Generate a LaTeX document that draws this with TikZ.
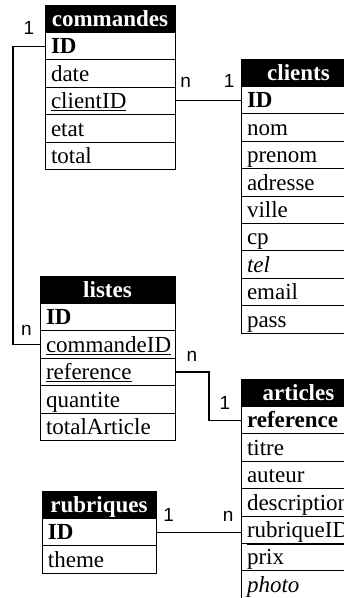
\documentclass[tikz,border=0pt]{standalone}
\usepackage{fontspec}
\setmainfont{Liberation Serif}
\newfontfamily\lblfont{Liberation Sans}
\usepackage{tikz}
\usetikzlibrary{positioning}

\begin{document}
\begin{tikzpicture}[
            x=1pt, y=-1pt,
            row node/.style={draw, line width=.8pt, outer sep=0pt, inner xsep=6pt, inner ysep=0pt,
                minimum height=27.4pt, text height=21pt, text depth=5.5pt, text width=#1, align=left,
                font=\fontsize{23}{26}\selectfont},
            head node/.style={row node=#1, fill=black, text=white, align=center,
                font=\fontsize{23}{26}\selectfont\bfseries},
            label node/.style={inner sep=0pt, font=\lblfont\fontsize{19}{19}\selectfont},
            link/.style={line width=1.2pt},
            ]
            \useasboundingbox (0,0) rectangle (344,598);
            \clip (0,0) rectangle (344,598);

            % commandes
            \node[head node=118, anchor=north west] (cmd) at (45,5) {commandes};
            \node[row node=118, below=0pt of cmd] (cmdID) {\textbf{ID}};
            \node[row node=118, below=0pt of cmdID] (cmdDate) {date};
            \node[row node=118, below=0pt of cmdDate] (cmdClient) {\underline{clientID}};
            \node[row node=118, below=0pt of cmdClient] (cmdEtat) {etat};
            \node[row node=118, below=0pt of cmdEtat] (cmdTotal) {total};

            % clients
            \node[head node=103, anchor=north west] (cli) at (241,59) {clients};
            \node[row node=103, below=0pt of cli] (cliID) {\textbf{ID}};
            \node[row node=103, below=0pt of cliID] (cliNom) {nom};
            \node[row node=103, below=0pt of cliNom] (cliPrenom) {prenom};
            \node[row node=103, below=0pt of cliPrenom] (cliAdresse) {adresse};
            \node[row node=103, below=0pt of cliAdresse] (cliVille) {ville};
            \node[row node=103, below=0pt of cliVille] (cliCp) {cp};
            \node[row node=103, below=0pt of cliCp] (cliTel) {\textit{tel}};
            \node[row node=103, below=0pt of cliTel] (cliEmail) {email};
            \node[row node=103, below=0pt of cliEmail] (cliPass) {pass};

            % listes
            \node[head node=123, anchor=north west] (lst) at (40,276) {listes};
            \node[row node=123, below=0pt of lst] (lstID) {\textbf{ID}};
            \node[row node=123, below=0pt of lstID] (lstCmd) {\underline{commandeID}};
            \node[row node=123, below=0pt of lstCmd] (lstRef) {\underline{reference}};
            \node[row node=123, below=0pt of lstRef] (lstQte) {quantite};
            \node[row node=123, below=0pt of lstQte] (lstTotal) {totalArticle};

            % articles
            \node[head node=103, anchor=north west] (art) at (241,379) {articles};
            \node[row node=103, below=0pt of art] (artRef) {\textbf{reference}};
            \node[row node=103, below=0pt of artRef] (artTitre) {titre};
            \node[row node=103, below=0pt of artTitre] (artAuteur) {auteur};
            \node[row node=103, below=0pt of artAuteur] (artDesc) {description};
            \node[row node=103, below=0pt of artDesc] (artRub) {\underline{rubriqueID}};
            \node[row node=103, below=0pt of artRub] (artPrix) {prix};
            \node[row node=103, below=0pt of artPrix] (artPhoto) {\textit{photo}};

            % rubriques
            \node[head node=102, anchor=north west] (rub) at (42,491) {rubriques};
            \node[row node=102, below=0pt of rub] (rubID) {\textbf{ID}};
            \node[row node=102, below=0pt of rubID] (rubTheme) {theme};

            % liens
            \draw[link] (cliID.west) -- node[label node, pos=.18, above=12pt] {1}
                node[label node, pos=.84, above=12pt] {n} (cliID.west -| cmdClient.east);
            \draw[link] (cmdID.west) -- node[label node, above=11pt] {1} ++(-32,0)
                |- node[label node, pos=.75, above=8pt] {n} (lstCmd.west);
            \draw[link] (lstRef.east) -- node[label node, above=10pt] {n} ++(34,0)
                |- node[label node, pos=.75, above=10pt] {1} (artRef.west);
            \draw[link] (rubID.east) -- node[label node, pos=.15, above=10pt] {1}
                node[label node, pos=.85, above=10pt] {n} (rubID.east -| artRub.west);
        \end{tikzpicture}
\end{document}
